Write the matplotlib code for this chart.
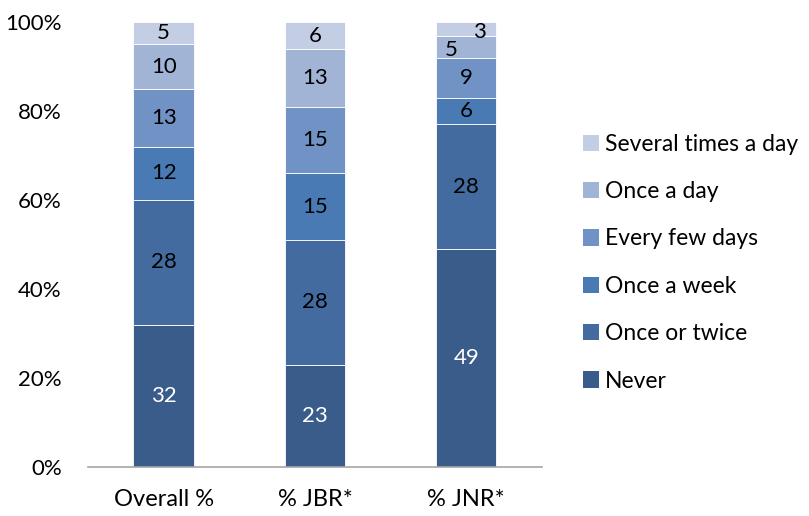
import matplotlib
matplotlib.use("Agg")
import matplotlib.pyplot as plt
import numpy as np
from matplotlib.patches import Patch

plt.rcParams['font.family'] = ['Lato', 'DejaVu Sans']

categories = ["Overall %", "% JBR*", "% JNR*"]
series_names = ["Never", "Once or twice", "Once a week", "Every few days",
                "Once a day", "Several times a day"]
never = [32, 23, 49]
once_or_twice = [28, 28, 28]
once_a_week = [12, 15, 6]
every_few_days = [13, 15, 9]
once_a_day = [10, 13, 5]
several_times = [5, 6, 3]
series_values = [never, once_or_twice, once_a_week, every_few_days,
                 once_a_day, several_times]
colors = ["#3A5C8A", "#436B9F", "#4A7AB4", "#7192C4", "#A2B4D6", "#C3CDE3"]
text_colors = ["white", "black", "black", "black", "black", "black"]
y_ticks = [0, 20, 40, 60, 80, 100]

fig = plt.figure(figsize=(8.09, 5.16), dpi=100)
ax = fig.add_axes([0.1088, 0.095, 0.561, 0.862])

x = np.arange(len(categories))
bottom = np.zeros(len(categories))
# small nudges for crowded labels in the last bar
nudges = {(2, 5): (0.09, -0.7), (2, 4): (-0.1, -0.8)}
for i, (name, vals) in enumerate(zip(series_names, series_values)):
    vals = np.array(vals, dtype=float)
    ax.bar(x, vals, 0.4, bottom=bottom, color=colors[i], label=name,
           edgecolor="white", linewidth=0.6)
    for j, v in enumerate(vals):
        dx, dy = nudges.get((j, i), (0, 0))
        ax.text(x[j] + dx, bottom[j] + v / 2 + dy, f"{int(v)}",
                ha="center", va="center", fontsize=16, color=text_colors[i])
    bottom += vals

ax.set_xlim(-0.5, 2.5)
ax.set_ylim(0, 100)
ax.set_yticks(y_ticks)
ax.set_yticklabels([f"{t}%" for t in y_ticks], fontsize=16)
ax.set_xticks(x)
ax.set_xticklabels(categories, fontsize=17)
ax.tick_params(axis="both", length=0)
ax.tick_params(axis="x", pad=16)
ax.tick_params(axis="y", pad=19)
for s in ["left", "right", "top"]:
    ax.spines[s].set_visible(False)
ax.spines["bottom"].set_color("#a6a6a6")
ax.spines["bottom"].set_linewidth(1.2)

handles = [Patch(facecolor=colors[i], label=series_names[i])
           for i in range(len(series_names))][::-1]
fig.legend(handles=handles, loc="center left", bbox_to_anchor=(0.7206, 0.491),
           frameon=False, fontsize=16.5, handlelength=0.72, handleheight=0.72,
           handletextpad=0.25, labelspacing=1.15, borderpad=0,
           borderaxespad=0)

fig.savefig("out.png", dpi=100)
